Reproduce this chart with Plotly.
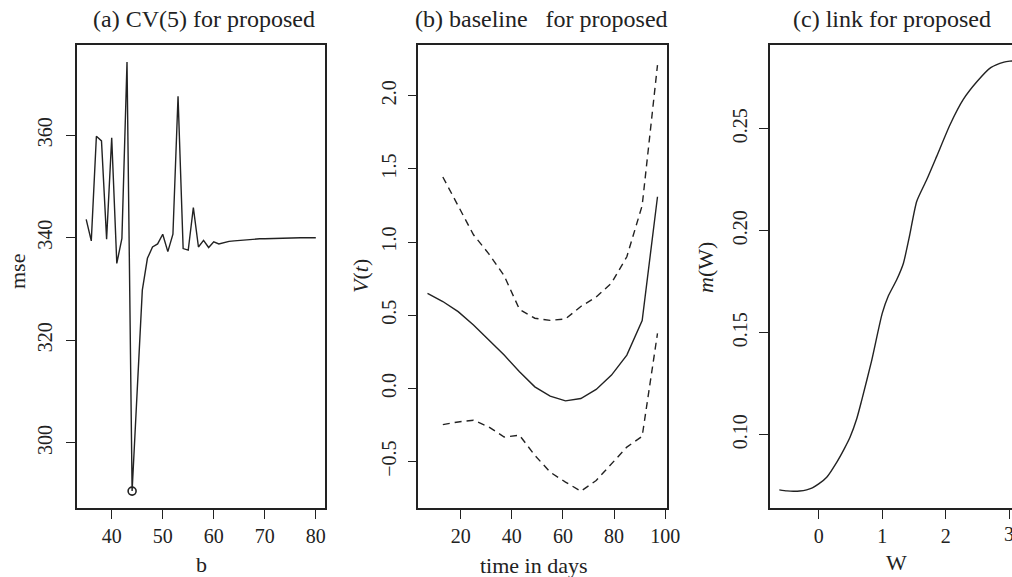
import plotly.graph_objects as go

# ---------------- data ----------------
# (a) CV(5) for proposed
b_vals = list(range(35, 81))
mse_vals = [343.6, 339.4, 359.8, 358.9, 339.7, 359.5, 335.0, 339.9, 374.3, 290.6,
            310.2, 329.8, 336.0, 338.2, 338.8, 340.7, 337.3, 340.7, 367.6, 337.9,
            337.6, 345.9, 338.2, 339.5, 338.1, 339.2, 338.8, 339.1, 339.3, 339.4,
            339.5, 339.6, 339.7, 339.7, 339.8, 339.8, 339.85, 339.9, 339.9, 339.9,
            339.95, 339.95, 340.0, 340.0, 340.0, 340.0]
b_best = [44]
mse_best = [290.6]

# (b) baseline for proposed
t_fit = [7, 13, 19, 25, 31, 37, 43, 49, 55, 61, 67, 73, 79, 85, 91, 97]
v_fit = [0.65, 0.594, 0.525, 0.434, 0.331, 0.228, 0.114, 0.011, -0.053, -0.085,
         -0.069, -0.007, 0.091, 0.228, 0.464, 1.31]
t_band = [13, 19, 25, 31, 37, 43, 49, 55, 61, 67, 73, 79, 85, 91, 97]
v_upper = [1.445, 1.245, 1.05, 0.92, 0.77, 0.54, 0.48, 0.465, 0.475, 0.56,
           0.625, 0.72, 0.90, 1.25, 2.21]
v_lower = [-0.247, -0.229, -0.217, -0.263, -0.332, -0.320, -0.457, -0.572, -0.640,
           -0.702, -0.629, -0.515, -0.401, -0.327, 0.377]

# (c) link for proposed
w_vals = [-0.62, -0.5, -0.4, -0.3, -0.19, -0.1, 0.0, 0.126, 0.283, 0.4, 0.493, 0.6,
          0.677, 0.835, 1.0, 1.096, 1.228, 1.333, 1.427, 1.543, 1.70, 1.858, 2.068,
          2.277, 2.497, 2.709, 2.918, 3.01, 3.05]
m_vals = [0.0730, 0.0725, 0.0723, 0.0724, 0.0730, 0.0740, 0.0759, 0.0792, 0.0865,
          0.0930, 0.0988, 0.1080, 0.1169, 0.1365, 0.1595, 0.1680, 0.1760, 0.1840,
          0.1970, 0.2144, 0.2250, 0.2365, 0.2520, 0.2644, 0.2733, 0.2800, 0.2827,
          0.2832, 0.2833]
w_ticks = [0, 1, 2, 3]

titles = ["(a) CV(5) for proposed", "(b) baseline\u00a0\u00a0\u00a0for proposed",
          "(c) link for proposed"]
xlabels = ["b", "time in days", "W"]
ylabels = ["mse", "<i>V</i>(<i>t</i>)", "<i>m</i>(W)"]

# ---------------- layout helpers ----------------
W, H = 1012, 577
FONT = "Liberation Serif"
INK = "#222222"

def px(x):
    return x / W

def py(y):
    return 1 - y / H

fig = go.Figure()

line_solid = dict(color=INK, width=1.4)
line_dash = dict(color=INK, width=1.4, dash="7px,5px")

fig.add_trace(go.Scatter(x=b_vals, y=mse_vals, mode="lines", line=line_solid,
                         xaxis="x", yaxis="y", showlegend=False))
fig.add_trace(go.Scatter(x=b_best, y=mse_best, mode="markers",
                         marker=dict(symbol="circle-open", size=8, color=INK,
                                     line=dict(color=INK, width=1.6)),
                         xaxis="x", yaxis="y", showlegend=False))

fig.add_trace(go.Scatter(x=t_fit, y=v_fit, mode="lines", line=line_solid,
                         xaxis="x2", yaxis="y2", showlegend=False))
fig.add_trace(go.Scatter(x=t_band, y=v_upper, mode="lines", line=line_dash,
                         xaxis="x2", yaxis="y2", showlegend=False))
fig.add_trace(go.Scatter(x=t_band, y=v_lower, mode="lines", line=line_dash,
                         xaxis="x2", yaxis="y2", showlegend=False))

fig.add_trace(go.Scatter(x=w_vals, y=m_vals, mode="lines",
                         line=dict(color=INK, width=1.4, shape="spline", smoothing=0.6),
                         xaxis="x3", yaxis="y3", showlegend=False))

tickfont = dict(family=FONT, size=20, color=INK)
top, bottom = 45, 508
ydom = [py(bottom), py(top)]

def xax(domain, rng, tickvals, anchor, mirror=True):
    return dict(domain=domain, range=rng, tickvals=tickvals, anchor=anchor,
                automargin=False,
                showline=True, linecolor=INK, linewidth=1.5, mirror=mirror,
                ticks="outside", ticklen=9, tickwidth=1.3, tickcolor=INK,
                showgrid=False, zeroline=False, tickfont=tickfont,
                ticklabelstandoff=0)

def yax(rng, tickvals, anchor, fmt, standoff, mirror=True):
    return dict(domain=ydom, range=rng, tickvals=tickvals, anchor=anchor,
                automargin=False,
                showline=True, linecolor=INK, linewidth=1.5, mirror=mirror,
                ticks="outside", ticklen=9, tickwidth=1.3, tickcolor=INK,
                showgrid=False, zeroline=False, tickfont=tickfont,
                tickangle=-90, tickformat=fmt, ticklabelstandoff=standoff)

fig.update_layout(
    width=W, height=H,
    margin=dict(l=0, r=0, t=0, b=0, pad=0, autoexpand=False),
    paper_bgcolor="white", plot_bgcolor="white",
    showlegend=False,
    xaxis=xax([px(77), px(325)], [33.2, 81.8], [40, 50, 60, 70, 80], "y"),
    yaxis=yax([287.3, 377.6], [300, 320, 340, 360], "x", "d", 6),
    xaxis2=xax([px(418.3), px(666.7)], [3.4, 100.6], [20, 40, 60, 80, 100], "y2"),
    yaxis2=yax([-0.817, 2.347], [-0.5, 0.0, 0.5, 1.0, 1.5, 2.0], "x2", ".1f", 4),
    xaxis3=xax([px(770), 1.0], [-0.767, 3.044], w_ticks, "y3"),
    yaxis3=yax([0.0641, 0.2911], [0.10, 0.15, 0.20, 0.25], "x3", ".2f", 4,
               mirror=False),
)

annots = []
title_x = [203.5, 541, 892]
for tx, t in zip(title_x, titles):
    annots.append(dict(x=px(tx), y=py(19), xref="paper", yref="paper", text=t,
                       showarrow=False, xanchor="center", yanchor="middle",
                       font=dict(family=FONT, size=24, color=INK)))
xlab_pos = [(201.5, 564), (534, 565), (896.7, 562.5)]
for (lx, ly), t in zip(xlab_pos, xlabels):
    annots.append(dict(x=px(lx), y=py(ly), xref="paper", yref="paper", text=t,
                       showarrow=False, xanchor="center", yanchor="middle",
                       font=dict(family=FONT, size=22, color=INK)))
ylab_pos = [(17, 272), (360, 276), (705, 268)]
for (lx, ly), t in zip(ylab_pos, ylabels):
    annots.append(dict(x=px(lx), y=py(ly), xref="paper", yref="paper", text=t,
                       showarrow=False, xanchor="center", yanchor="middle",
                       textangle=-90,
                       font=dict(family=FONT, size=22, color=INK)))
# last tick label of panel (c), cut by the right edge as in the reference
annots.append(dict(x=w_ticks[-1], y=py(534), xref="x3", yref="paper",
                   text=str(w_ticks[-1]), showarrow=False,
                   xanchor="center", yanchor="middle", font=tickfont))
fig.update_layout(annotations=annots)

post = (
    "document.documentElement.style.overflow='hidden';"
    "document.body.style.margin='0';"
    "document.body.style.padding='0';"
    "document.body.style.overflow='hidden';"
)

fig.write_html("out.html", config={"displayModeBar": False}, post_script=post)
